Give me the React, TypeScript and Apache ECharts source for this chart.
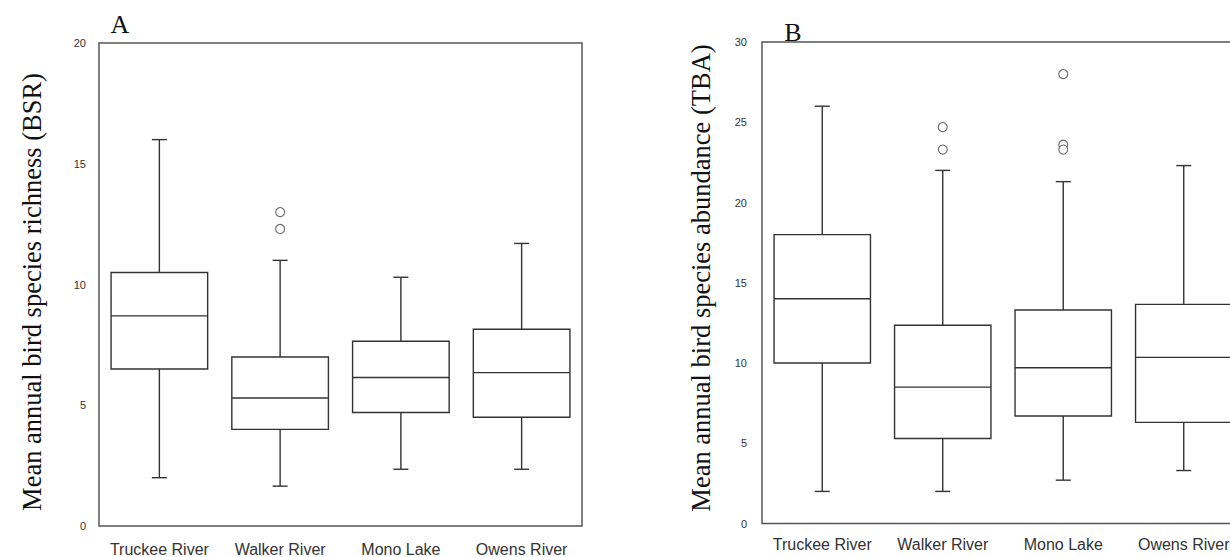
import React, { useEffect, useRef } from "react";
import * as echarts from "echarts";

const categories = ["Truckee River", "Walker River", "Mono Lake", "Owens River"];

// [lower whisker, Q1, median, Q3, upper whisker]
const bsrBoxes = [
  [2.0, 6.5, 8.7, 10.5, 16.0],
  [1.65, 4.0, 5.3, 7.0, 11.0],
  [2.35, 4.7, 6.15, 7.65, 10.3],
  [2.35, 4.5, 6.35, 8.15, 11.7],
];
// [category index, value]
const bsrOutliers = [
  [1, 13.0],
  [1, 12.3],
];

const tbaBoxes = [
  [2.0, 10.0, 14.0, 18.0, 26.0],
  [2.0, 5.3, 8.5, 12.35, 22.0],
  [2.7, 6.7, 9.7, 13.3, 21.3],
  [3.3, 6.3, 10.35, 13.65, 22.3],
];
const tbaOutliers = [
  [1, 24.7],
  [1, 23.3],
  [2, 28.0],
  [2, 23.6],
  [2, 23.3],
];

const bsrTicks = { min: 0, max: 20, interval: 5 };
const tbaTicks = { min: 0, max: 30, interval: 5 };

const titleA = "Mean annual bird species richness (BSR)";
const titleB = "Mean annual bird species abundance (TBA)";

const INK = "#333";
const SERIF = "'Liberation Serif', 'Times New Roman', serif";

function renderBox(params: any, api: any) {
  const idx = api.value(0);
  const low = api.coord([idx, api.value(1)]);
  const q1 = api.coord([idx, api.value(2)]);
  const med = api.coord([idx, api.value(3)]);
  const q3 = api.coord([idx, api.value(4)]);
  const high = api.coord([idx, api.value(5)]);
  const bw = api.size([1, 0])[0] * 0.8;
  const cx = low[0];
  const cap = 7.5;
  const ls = { stroke: INK, lineWidth: 1.4, fill: null };
  return {
    type: "group",
    children: [
      { type: "line", shape: { x1: cx, y1: high[1], x2: cx, y2: q3[1] }, style: ls },
      { type: "line", shape: { x1: cx, y1: q1[1], x2: cx, y2: low[1] }, style: ls },
      { type: "line", shape: { x1: cx - cap, y1: high[1], x2: cx + cap, y2: high[1] }, style: ls },
      { type: "line", shape: { x1: cx - cap, y1: low[1], x2: cx + cap, y2: low[1] }, style: ls },
      {
        type: "rect",
        shape: { x: cx - bw / 2, y: q3[1], width: bw, height: q1[1] - q3[1] },
        style: { stroke: INK, lineWidth: 1.4, fill: "#fff" },
      },
      { type: "line", shape: { x1: cx - bw / 2, y1: med[1], x2: cx + bw / 2, y2: med[1] }, style: ls },
    ],
  };
}

export default function App() {
  const ref = useRef<HTMLDivElement>(null);
  useEffect(() => {
    if (!ref.current) return;
    const chart = echarts.init(ref.current, null, { renderer: "svg" });
    const xAxisBase = (gridIndex: number, margin: number) => ({
      type: "category",
      gridIndex,
      data: categories,
      axisLine: { show: false },
      axisTick: { show: false },
      splitLine: { show: false },
      axisLabel: {
        margin,
        fontSize: 16,
        color: INK,
        fontFamily: "Liberation Sans, Arial, sans-serif",
        interval: 0,
      },
    });
    const yAxisBase = (gridIndex: number, ticks: any, margin: number) => ({
      type: "value",
      gridIndex,
      min: ticks.min,
      max: ticks.max,
      interval: ticks.interval,
      axisLine: { show: false },
      axisTick: { show: false },
      splitLine: { show: false },
      axisLabel: {
        margin,
        fontSize: 11,
        color: INK,
        fontFamily: "Liberation Sans, Arial, sans-serif",
      },
    });
    const toBoxData = (boxes: number[][]) => boxes.map((b, i) => [i, ...b]);
    const outlierStyle = {
      type: "scatter",
      symbol: "circle",
      symbolSize: 9,
      itemStyle: { color: "#fff", borderColor: "#444", borderWidth: 1.1 },
      z: 5,
    };
    chart.setOption({
      animation: false,
      backgroundColor: "#fff",
      grid: [
        { left: 99, top: 43, width: 483, height: 483, show: true, borderColor: "#555", borderWidth: 1.5, backgroundColor: "transparent" },
        { left: 762, top: 42, width: 482, height: 481.5, show: true, borderColor: "#555", borderWidth: 1.5, backgroundColor: "transparent" },
      ],
      xAxis: [xAxisBase(0, 15), xAxisBase(1, 13)],
      yAxis: [yAxisBase(0, bsrTicks, 13), yAxisBase(1, tbaTicks, 15)],
      series: [
        {
          type: "custom",
          xAxisIndex: 0,
          yAxisIndex: 0,
          renderItem: renderBox,
          encode: { x: 0, y: [1, 2, 3, 4, 5] },
          data: toBoxData(bsrBoxes),
        },
        { ...outlierStyle, xAxisIndex: 0, yAxisIndex: 0, data: bsrOutliers },
        {
          type: "custom",
          xAxisIndex: 1,
          yAxisIndex: 1,
          renderItem: renderBox,
          encode: { x: 0, y: [1, 2, 3, 4, 5] },
          data: toBoxData(tbaBoxes),
        },
        { ...outlierStyle, xAxisIndex: 1, yAxisIndex: 1, data: tbaOutliers },
      ],
      graphic: [
        {
          type: "text",
          x: 32,
          y: 292,
          rotation: Math.PI / 2,
          style: { text: titleA, font: `26.5px ${SERIF}`, fill: "#111", align: "center", verticalAlign: "middle" },
        },
        {
          type: "text",
          x: 701,
          y: 278,
          rotation: Math.PI / 2,
          style: { text: titleB, font: `26.5px ${SERIF}`, fill: "#111", align: "center", verticalAlign: "middle" },
        },
        {
          type: "text",
          x: 120,
          y: 24,
          style: { text: "A", font: `26px ${SERIF}`, fill: "#111", align: "center", verticalAlign: "middle" },
        },
        {
          type: "text",
          x: 793,
          y: 32,
          style: { text: "B", font: `26px ${SERIF}`, fill: "#111", align: "center", verticalAlign: "middle" },
        },
      ],
    });
    return () => chart.dispose();
  }, []);
  return (
    <div style={{ position: "absolute", left: 0, top: 0, width: 1230, height: 557, overflow: "hidden" }}>
      <div ref={ref} style={{ width: 1270, height: 557 }} />
    </div>
  );
}
